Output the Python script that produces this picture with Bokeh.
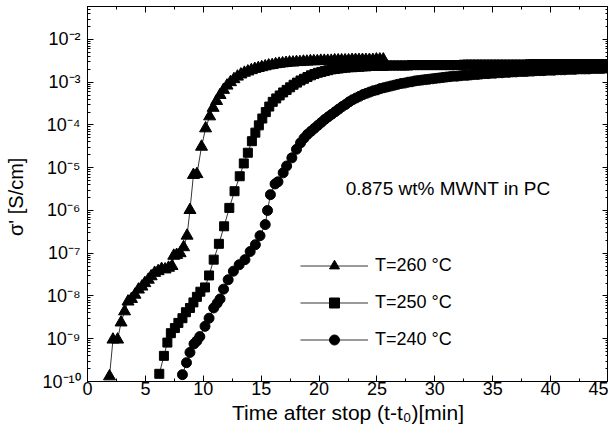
from bokeh.plotting import figure
from bokeh.models import (LinearAxis, LogAxis, Range1d, SingleIntervalTicker, FixedTicker,
                          CustomJSTickFormatter, Legend, LegendItem, Label, ColumnDataSource)
from bokeh.embed import file_html
from bokeh.resources import INLINE

# ---------------- data ----------------
# time after stop (min) and log10 of sigma' (S/cm)
t_260 = [1.9, 2.2, 2.6, 2.9, 3.2, 3.5, 3.8, 4.1, 4.4, 4.7,
         4.95, 5.25, 5.5, 5.8, 6.1, 6.4, 6.7, 7.0, 7.3, 7.45,
         7.7, 8.0, 8.3, 8.6, 8.85, 9.15, 9.45, 9.85, 10.2, 10.55,
         10.85, 11.15, 11.45, 11.75, 12.05, 12.35, 12.65, 12.95, 13.25, 13.55,
         13.85, 14.15, 14.45, 14.75, 15.05, 15.35, 15.65, 15.95, 16.25, 16.55,
         16.85, 17.15, 17.45, 17.75, 18.05, 18.35, 18.65, 18.95, 19.25, 19.55,
         19.85, 20.15, 20.45, 20.75, 21.05, 21.35, 21.65, 21.95, 22.25, 22.55,
         22.85, 23.15, 23.45, 23.75, 24.05, 24.35, 24.65, 24.95, 25.25, 25.55]
log_sigma_260 = [-9.88, -9.02, -9.02, -8.62, -8.36, -8.13, -8.07, -7.97, -7.85, -7.78,
                 -7.70, -7.62, -7.54, -7.46, -7.42, -7.37, -7.38, -7.34, -7.30, -7.06,
                 -7.04, -7.00, -6.86, -6.59, -5.99, -5.17, -5.15, -4.51, -4.08, -3.80,
                 -3.60, -3.44, -3.30, -3.18, -3.08, -3.00, -2.93, -2.87, -2.82, -2.78,
                 -2.75, -2.72, -2.69, -2.67, -2.65, -2.63, -2.61, -2.60, -2.58, -2.57,
                 -2.56, -2.55, -2.54, -2.54, -2.53, -2.53, -2.52, -2.52, -2.51, -2.51,
                 -2.51, -2.50, -2.50, -2.50, -2.50, -2.49, -2.49, -2.49, -2.49, -2.49,
                 -2.48, -2.48, -2.48, -2.48, -2.48, -2.48, -2.48, -2.47, -2.47, -2.47]

t_250 = [6.2, 6.6, 6.9, 7.2, 7.55, 7.85, 8.2, 8.5, 8.85, 9.15,
         9.45, 9.75, 10.15, 10.5, 10.9, 11.35, 11.8, 12.25, 12.7, 13.15,
         13.5, 13.85, 14.2, 14.5, 14.8, 15.1, 15.4, 15.7, 16.0, 16.3,
         16.6, 16.9, 17.2, 17.5, 17.8, 18.1, 18.4, 18.7, 19.0, 19.3,
         19.6, 19.9, 20.2, 20.5, 20.8, 21.1, 21.4, 21.7, 22.0, 22.3,
         22.6, 22.9, 23.2, 23.5, 23.8, 24.1, 24.4, 24.7, 25.0, 25.3,
         25.6, 25.9, 26.2, 26.5, 26.8, 27.1, 27.4, 27.7, 28.0, 28.3,
         28.6, 28.9, 29.2, 29.5, 29.8, 30.1, 30.4, 30.7, 31.0, 31.3,
         31.6, 31.9, 32.2, 32.5, 32.8, 33.1, 33.4, 33.7, 34.0, 34.3,
         34.6, 34.9, 35.2, 35.5, 35.8, 36.1, 36.4, 36.7, 37.0, 37.3,
         37.6, 37.9, 38.2, 38.5, 38.8, 39.1, 39.4, 39.7, 40.0, 40.3,
         40.6, 40.9, 41.2, 41.5, 41.8, 42.1, 42.4, 42.7, 43.0, 43.3,
         43.6, 43.9, 44.2, 44.5, 44.8]
log_sigma_250 = [-9.82, -9.40, -9.09, -8.87, -8.75, -8.63, -8.52, -8.38, -8.28, -8.15,
                 -8.02, -7.90, -7.80, -7.52, -7.15, -6.78, -6.37, -5.94, -5.55, -5.20,
                 -4.90, -4.65, -4.38, -4.18, -4.01, -3.85, -3.70, -3.57, -3.46, -3.38,
                 -3.31, -3.24, -3.18, -3.12, -3.06, -3.01, -2.96, -2.92, -2.88, -2.84,
                 -2.81, -2.78, -2.76, -2.74, -2.72, -2.70, -2.69, -2.68, -2.67, -2.66,
                 -2.65, -2.65, -2.64, -2.64, -2.63, -2.63, -2.62, -2.62, -2.62, -2.62,
                 -2.62, -2.61, -2.61, -2.61, -2.61, -2.61, -2.61, -2.61, -2.60, -2.60,
                 -2.60, -2.60, -2.60, -2.60, -2.60, -2.60, -2.60, -2.60, -2.60, -2.60,
                 -2.60, -2.60, -2.60, -2.59, -2.59, -2.59, -2.59, -2.59, -2.59, -2.59,
                 -2.59, -2.59, -2.59, -2.59, -2.59, -2.59, -2.59, -2.59, -2.59, -2.59,
                 -2.59, -2.59, -2.58, -2.58, -2.58, -2.58, -2.58, -2.58, -2.58, -2.58,
                 -2.58, -2.58, -2.58, -2.58, -2.58, -2.58, -2.58, -2.58, -2.58, -2.58,
                 -2.58, -2.58, -2.58, -2.58, -2.58]

t_240 = [8.2, 8.55, 8.85, 9.2, 9.45, 9.7, 10.15, 10.5, 10.9, 11.2,
         11.45, 11.75, 12.15, 12.6, 13.1, 13.6, 14.05, 14.5, 14.9, 15.35,
         15.55, 15.8, 16.2, 16.45, 16.9, 17.2, 17.65, 18.05, 18.4, 18.7,
         19.0, 19.3, 19.6, 19.9, 20.2, 20.5, 20.8, 21.1, 21.4, 21.7,
         22.0, 22.3, 22.6, 22.9, 23.2, 23.5, 23.8, 24.1, 24.4, 24.7,
         25.0, 25.3, 25.6, 25.9, 26.2, 26.5, 26.8, 27.1, 27.4, 27.7,
         28.0, 28.3, 28.6, 28.9, 29.2, 29.5, 29.8, 30.1, 30.4, 30.7,
         31.0, 31.3, 31.6, 31.9, 32.2, 32.5, 32.8, 33.1, 33.4, 33.7,
         34.0, 34.3, 34.6, 34.9, 35.2, 35.5, 35.8, 36.1, 36.4, 36.7,
         37.0, 37.3, 37.6, 37.9, 38.2, 38.5, 38.8, 39.1, 39.4, 39.7,
         40.0, 40.3, 40.6, 40.9, 41.2, 41.5, 41.8, 42.1, 42.4, 42.7,
         43.0, 43.3, 43.6, 43.9, 44.2, 44.5, 44.8]
log_sigma_240 = [-9.84, -9.56, -9.32, -9.12, -9.05, -8.95, -8.71, -8.52, -8.28, -8.17,
                 -8.07, -7.84, -7.62, -7.42, -7.27, -7.15, -6.96, -6.80, -6.59, -6.33,
                 -6.00, -5.63, -5.38, -5.33, -5.12, -4.96, -4.77, -4.57, -4.42, -4.31,
                 -4.22, -4.15, -4.08, -4.01, -3.94, -3.87, -3.81, -3.75, -3.69, -3.63,
                 -3.57, -3.52, -3.46, -3.41, -3.37, -3.33, -3.29, -3.26, -3.23, -3.20,
                 -3.18, -3.15, -3.13, -3.11, -3.09, -3.07, -3.05, -3.03, -3.02, -3.00,
                 -2.99, -2.97, -2.96, -2.95, -2.94, -2.93, -2.92, -2.91, -2.90, -2.89,
                 -2.88, -2.87, -2.86, -2.86, -2.85, -2.84, -2.84, -2.83, -2.82, -2.82,
                 -2.81, -2.80, -2.80, -2.79, -2.79, -2.78, -2.78, -2.77, -2.77, -2.76,
                 -2.76, -2.75, -2.75, -2.75, -2.74, -2.74, -2.73, -2.73, -2.73, -2.72,
                 -2.72, -2.72, -2.71, -2.71, -2.71, -2.70, -2.70, -2.70, -2.69, -2.69,
                 -2.69, -2.69, -2.68, -2.68, -2.68, -2.68, -2.67]

series_labels = ["T=260 °C", "T=250 °C", "T=240 °C"]
x_tick_step = 5
y_tick_exponents = [-10, -9, -8, -7, -6, -5, -4, -3, -2]
annotation_text = "0.875 wt% MWNT in PC"
x_title = "Time after stop (t-t\u2080)[min]"
y_title = "\u03c3'  [S/cm]"

FONT = "Liberation Sans"

p = figure(width=608, height=439,
           x_range=Range1d(0, 45), y_range=Range1d(1e-10, 10 ** -1.23),
           y_axis_type="log", output_backend="svg", toolbar_location=None,
           min_border_left=87, min_border_right=0, min_border_top=6, min_border_bottom=58)
p.background_fill_color = "white"
p.border_fill_color = "white"
p.xgrid.visible = False
p.ygrid.visible = False
p.outline_line_color = "black"
p.outline_line_width = 1

def to_sigma(logs):
    return [10 ** v for v in logs]

src260 = ColumnDataSource(dict(t=t_260, s=to_sigma(log_sigma_260)))
src250 = ColumnDataSource(dict(t=t_250, s=to_sigma(log_sigma_250)))
src240 = ColumnDataSource(dict(t=t_240, s=to_sigma(log_sigma_240)))

l260 = p.line("t", "s", source=src260, line_color="black", line_width=0.8)
l250 = p.line("t", "s", source=src250, line_color="black", line_width=0.8)
l240 = p.line("t", "s", source=src240, line_color="black", line_width=0.8)
m260 = p.scatter("t", "s", source=src260, marker="triangle", size=12,
                 fill_color="black", line_color="black")
m250 = p.scatter("t", "s", source=src250, marker="square", size=9,
                 fill_color="black", line_color="black")
m240 = p.scatter("t", "s", source=src240, marker="circle", size=10,
                 fill_color="black", line_color="black")

# ---------------- axes ----------------
y_major = [10.0 ** e for e in y_tick_exponents]
y_minor = [k * 10.0 ** e for e in y_tick_exponents + [-1] for k in range(2, 10)]
yticker = FixedTicker(ticks=y_major, minor_ticks=y_minor)
xticker = SingleIntervalTicker(interval=x_tick_step, num_minor_ticks=2)

sup_js = """
const sup = {"-":"\u207b","0":"\u2070","1":"\u00b9","2":"\u00b2","3":"\u00b3","4":"\u2074",
             "5":"\u2075","6":"\u2076","7":"\u2077","8":"\u2078","9":"\u2079"};
const e = Math.round(Math.log10(tick));
return "10" + String(e).split("").map(c => sup[c]).join("");
"""

def style_axis(ax):
    ax.axis_line_color = "black"
    ax.major_tick_line_color = "black"
    ax.minor_tick_line_color = "black"
    ax.major_tick_in = 6
    ax.major_tick_out = 0
    ax.minor_tick_in = 3
    ax.minor_tick_out = 0
    ax.major_label_text_font = FONT
    ax.axis_label_text_font = FONT
    ax.axis_label_text_font_style = "normal"
    ax.major_label_text_color = "black"
    ax.axis_label_text_color = "black"

xa = p.xaxis[0]
style_axis(xa)
xa.ticker = xticker
xa.major_label_text_font_size = "18px"
xa.major_label_standoff = 0
xa.axis_label = x_title
xa.axis_label_text_font_size = "21px"
xa.axis_label_standoff = 3

ya = p.yaxis[0]
style_axis(ya)
ya.ticker = yticker
ya.formatter = CustomJSTickFormatter(code=sup_js)
ya.major_label_text_font_size = "18px"
ya.major_label_standoff = 7
ya.axis_label = y_title
ya.axis_label_text_font_size = "20px"
ya.axis_label_standoff = 12

blank = CustomJSTickFormatter(code='return "";')

top = LinearAxis(ticker=xticker, formatter=blank)
style_axis(top)
top.major_label_standoff = 0
top.major_label_text_font_size = "1px"
p.add_layout(top, "above")

right = LogAxis(ticker=yticker, formatter=blank)
style_axis(right)
right.major_label_standoff = 0
right.major_label_text_font_size = "1px"
p.add_layout(right, "right")

# ---------------- legend ----------------
legend = Legend(items=[LegendItem(label=series_labels[0], renderers=[l260, m260]),
                       LegendItem(label=series_labels[1], renderers=[l250, m250]),
                       LegendItem(label=series_labels[2], renderers=[l240, m240])],
                location=(213, 29), glyph_width=68, glyph_height=25, spacing=12,
                label_standoff=7, padding=0, margin=0, border_line_color=None,
                background_fill_alpha=0, label_text_font=FONT, label_text_font_size="18px",
                label_text_color="black")
p.add_layout(legend)

p.add_layout(Label(x=22.3, y=3.2e-6, text=annotation_text, text_font=FONT,
                   text_font_size="19px", text_baseline="alphabetic", text_color="black"))

open("out.html", "w").write(file_html(p, INLINE))
